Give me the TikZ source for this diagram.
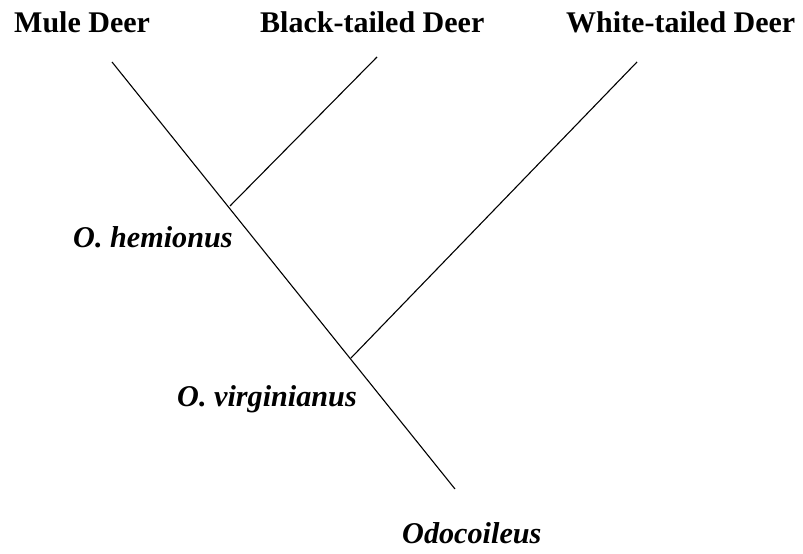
\documentclass[tikz,border=0pt]{standalone}
\usepackage{fontspec}
\setmainfont{Liberation Serif}
\begin{document}
\begin{tikzpicture}[x=1pt,y=1pt,
  lbl/.style={anchor=base west,inner sep=0pt,font=\fontsize{30}{31}\selectfont\bfseries},
  sp/.style={lbl,font=\fontsize{30.2}{31}\selectfont\bfseries\itshape},
  br/.style={line width=1.1pt}]
\useasboundingbox (0,0) rectangle (803,554);
\node[lbl] (mule) at (14,521) {Mule Deer};
\node[lbl] (black) at (260,521) {Black-tailed Deer};
\node[lbl] (white) at (566,521) {White-tailed Deer};
\node[sp] (hem) at (73,306) {O. hemionus};
\node[sp] (vir) at (177,147) {O. virginianus};
\node[sp] (odo) at (402,10) {Odocoileus};
\coordinate (mtop) at (112,492);
\coordinate (btop) at (377,497);
\coordinate (wtop) at (637,492);
\coordinate (j1) at (230,348);
\coordinate (j2) at (351,196);
\coordinate (root) at (455,65);
\draw[br] (mtop) -- (root);
\draw[br] (btop) -- (j1);
\draw[br] (wtop) -- (j2);
\end{tikzpicture}
\end{document}
